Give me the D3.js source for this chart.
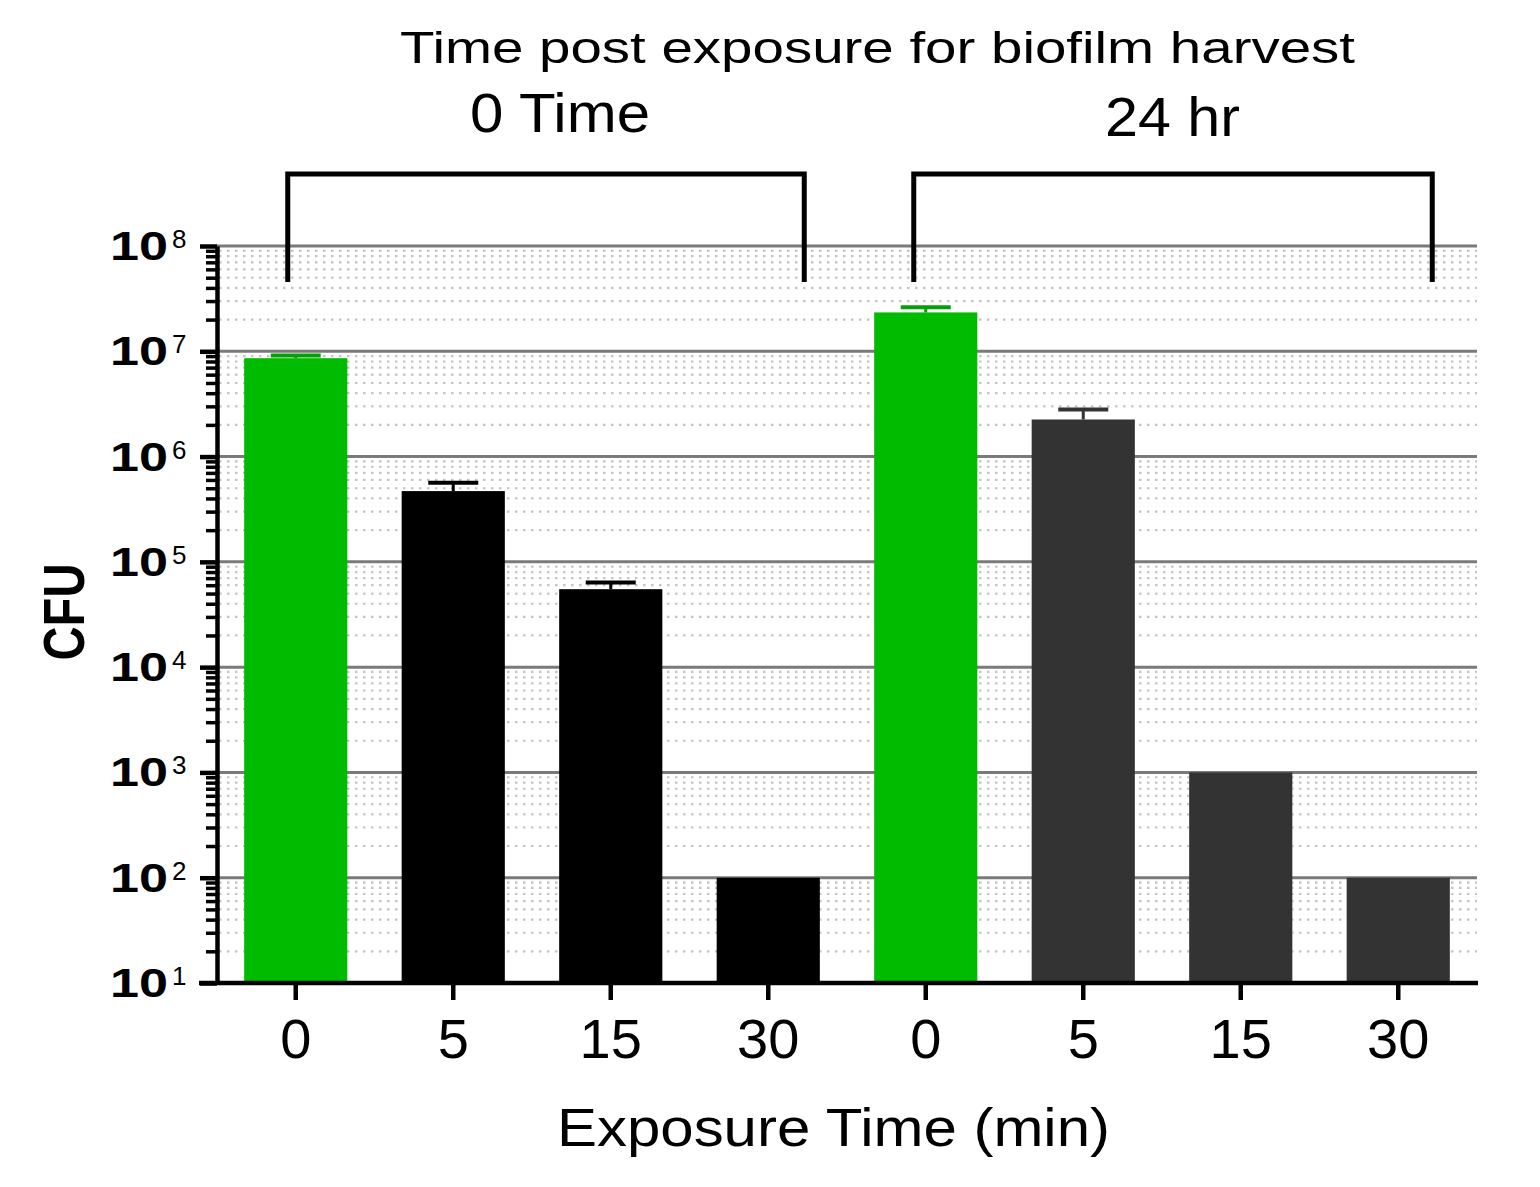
<!DOCTYPE html>
<html>
<head>
<meta charset="utf-8">
<script src="https://cdn.jsdelivr.net/npm/d3@7"></script>
<style>
  body { margin: 0; background: #fff; }
  svg { display: block; }
  text { font-family: "Liberation Sans", Arial, sans-serif; fill: #000; }
</style>
</head>
<body>
<svg id="chart" width="1540" height="1187"></svg>
<script>
// ---- data ----
const groups = ["0 Time", "24 hr"];
const exposureLabels = ["0", "5", "15", "30"];
const means0h = [8.6e6, 4.7e5, 5.5e4, 100];
const errs0h = [0.5e6, 0.95e5, 0.85e4, 0];
const means24h = [2.34e7, 2.25e6, 1000, 100];
const errs24h = [0.28e7, 0.55e6, 0, 0];
const yTickExponents = [1, 2, 3, 4, 5, 6, 7, 8];
const chartTitle = "Time post exposure for biofilm harvest";
const xTitle = "Exposure Time (min)";
const yTitle = "CFU";

const colors = { control: "#00bb00", controlErr: "#079f07", g0: "#000000", g24: "#333333" };

// build rows
const rows = [];
[[means0h, errs0h, 0], [means24h, errs24h, 1]].forEach(([m, e, gi]) => {
  m.forEach((v, i) => rows.push({
    key: gi + "-" + i, group: gi, label: exposureLabels[i], value: v, err: e[i],
    fill: i === 0 ? colors.control : (gi === 0 ? colors.g0 : colors.g24),
    errColor: i === 0 ? colors.controlErr : (gi === 0 ? colors.g0 : colors.g24)
  }));
});

const svg = d3.select("#chart");
const pL = 217, pR = 1477, pT = 246, pB = 983;

const x = d3.scaleBand().domain(rows.map(d => d.key)).range([pL, pR])
  .paddingInner(0.345).paddingOuter(0.1725);
const y = d3.scaleLog().domain([10, 1e8]).range([pB, pT]);

const majors = yTickExponents.map(e => Math.pow(10, e));
const minors = [];
for (let e = 1; e < 8; e++) for (let k = 2; k <= 9; k++) minors.push(k * Math.pow(10, e));

// minor dotted gridlines
svg.append("g").selectAll("line").data(minors).join("line")
  .attr("x1", pL + 2).attr("x2", pR)
  .attr("y1", d => y(d)).attr("y2", d => y(d))
  .attr("stroke", "#c4c4c4").attr("stroke-width", 2.2)
  .attr("stroke-dasharray", "2.5,5.5");

// major gridlines
svg.append("g").selectAll("line").data(majors.filter(d => d > 10)).join("line")
  .attr("x1", pL).attr("x2", pR)
  .attr("y1", d => y(d)).attr("y2", d => y(d))
  .attr("stroke", "#7a7a7a").attr("stroke-width", 3);

// bars
svg.append("g").selectAll("rect").data(rows).join("rect")
  .attr("x", d => x(d.key)).attr("width", x.bandwidth())
  .attr("y", d => y(d.value)).attr("height", d => pB - y(d.value))
  .attr("fill", d => d.fill);

// error bars (upper only)
const eb = svg.append("g").selectAll("g").data(rows.filter(d => d.err > 0)).join("g");
eb.append("line")
  .attr("x1", d => x(d.key) + x.bandwidth() / 2).attr("x2", d => x(d.key) + x.bandwidth() / 2)
  .attr("y1", d => y(d.value)).attr("y2", d => y(d.value + d.err))
  .attr("stroke", d => d.errColor).attr("stroke-width", 3);
eb.append("line")
  .attr("x1", d => x(d.key) + x.bandwidth() / 2 - 25).attr("x2", d => x(d.key) + x.bandwidth() / 2 + 25)
  .attr("y1", d => y(d.value + d.err)).attr("y2", d => y(d.value + d.err))
  .attr("stroke", d => d.errColor).attr("stroke-width", 4);

// y axis: minor ticks
const yMinorAxis = svg.append("g").attr("transform", `translate(${pL},0)`)
  .call(d3.axisLeft(y).tickValues(minors).tickSize(11).tickFormat(""));
yMinorAxis.select(".domain").remove();
yMinorAxis.selectAll(".tick line").attr("stroke", "#000").attr("stroke-width", 3.5);

// y axis: majors
const yAxis = svg.append("g").attr("transform", `translate(${pL},0)`)
  .call(d3.axisLeft(y).tickValues(majors).tickSize(17).tickSizeOuter(0).tickFormat(""));
yAxis.select(".domain").attr("stroke", "#000").attr("stroke-width", 4.5);
yAxis.selectAll(".tick line").attr("stroke", "#000").attr("stroke-width", 4.5);

// y tick labels 10^n
const yl = svg.append("g").selectAll("g").data(yTickExponents).join("g")
  .attr("transform", e => `translate(0,${y(Math.pow(10, e))})`);
yl.append("text").attr("x", 110).attr("y", 14)
  .attr("font-size", 41).attr("font-weight", "bold")
  .attr("textLength", 58).attr("lengthAdjust", "spacingAndGlyphs")
  .text("10");
yl.append("text").attr("x", 172).attr("y", 2)
  .attr("font-size", 26)
  .text(e => e);

// x axis
const xAxis = svg.append("g").attr("transform", `translate(0,${pB})`)
  .call(d3.axisBottom(x).tickSize(17).tickSizeOuter(0).tickFormat(k => rows.find(r => r.key === k).label));
xAxis.select(".domain").attr("d", `M${pL - 18},0H${pR + 1}`).attr("stroke", "#000").attr("stroke-width", 4.5);
xAxis.selectAll(".tick line").attr("stroke", "#000").attr("stroke-width", 4.5);
xAxis.selectAll(".tick text").attr("font-size", 56).attr("fill", "#000")
  .attr("font-family", "Liberation Sans, Arial, sans-serif")
  .attr("y", 35).attr("dy", "0.71em");

// axis titles
svg.append("text").attr("x", 557).attr("y", 1146)
  .attr("font-size", 54).attr("textLength", 553).attr("lengthAdjust", "spacingAndGlyphs")
  .text(xTitle);
svg.append("text").attr("transform", "translate(84,612) rotate(-90)")
  .attr("text-anchor", "middle").attr("font-size", 58).attr("font-weight", "bold")
  .attr("textLength", 97).attr("lengthAdjust", "spacingAndGlyphs")
  .text(yTitle);

// title
svg.append("text").attr("x", 400).attr("y", 63)
  .attr("font-size", 44).attr("textLength", 955).attr("lengthAdjust", "spacingAndGlyphs")
  .text(chartTitle);

// group brackets + labels
const groupInfo = groups.map((g, gi) => {
  const keys = rows.filter(r => r.group === gi).map(r => r.key);
  return { name: g, first: keys[0], last: keys[keys.length - 1], gi };
});
const bracketTop = 174, bracketBottom = 282;
const bracketOffsets = [[-8, 36], [-12, 34]];
groupInfo.forEach(g => {
  const x1 = x(g.first) + x.bandwidth() / 2 + bracketOffsets[g.gi][0];
  const x2 = x(g.last) + x.bandwidth() / 2 + bracketOffsets[g.gi][1];
  svg.append("path")
    .attr("d", `M${x1},${bracketBottom}V${bracketTop}H${x2}V${bracketBottom}`)
    .attr("fill", "none").attr("stroke", "#000").attr("stroke-width", 5);
});
svg.append("text").attr("x", 470).attr("y", 132)
  .attr("font-size", 56).attr("textLength", 180).attr("lengthAdjust", "spacingAndGlyphs")
  .text(groups[0]);
svg.append("text").attr("x", 1105).attr("y", 136)
  .attr("font-size", 56).attr("textLength", 135).attr("lengthAdjust", "spacingAndGlyphs")
  .text(groups[1]);
</script>
</body>
</html>
